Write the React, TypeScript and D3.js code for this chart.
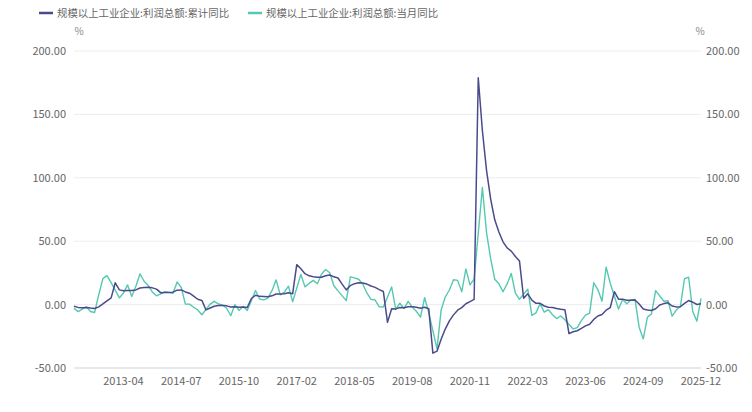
import React from "react";
import * as d3 from "d3";

// Months shown on the category axis (January is never reported separately)
const firstYearMonths = [3, 4, 5, 6, 7, 8, 9, 10, 11, 12]; // 2012
const regularMonths = [2, 3, 4, 5, 6, 7, 8, 9, 10, 11, 12]; // 2013 onwards
const years = [2012, 2013, 2014, 2015, 2016, 2017, 2018, 2019, 2020, 2021, 2022, 2023, 2024, 2025];

// 累计同比 (cumulative YoY, %)
const cumulative2012 = [-1.3, -2.2, -2.4, -2.2, -2.7, -3.1, -1.8, 0.5, 3.0, 5.3];
const cumulative2013 = [17.2, 11.6, 10.9, 11.1, 11.1, 11.6, 13.1, 13.5, 13.7, 13.2, 12.2];
const cumulative2014 = [9.4, 9.6, 9.6, 9.8, 11.4, 11.6, 10.0, 9.0, 6.7, 4.2, 3.3];
const cumulative2015 = [-4.2, -2.7, -1.3, -0.8, -0.7, -1.0, -1.9, -1.7, -2.0, -1.9, -2.3];
const cumulative2016 = [4.8, 7.4, 6.5, 6.4, 6.2, 6.9, 8.4, 8.4, 8.6, 9.4, 8.5];
const cumulative2017 = [31.5, 28.3, 24.4, 22.7, 22.0, 21.6, 21.6, 22.8, 23.3, 21.9, 21.0];
const cumulative2018 = [16.1, 11.6, 15.0, 16.5, 17.2, 17.1, 16.2, 14.7, 13.6, 11.8, 10.3];
const cumulative2019 = [-14.0, -3.3, -3.4, -2.3, -2.4, -1.7, -1.7, -2.1, -2.9, -2.1, -3.3];
const cumulative2020 = [-38.3, -36.7, -27.4, -19.3, -12.8, -8.1, -4.4, -2.4, 0.7, 2.4, 4.1];
const cumulative2021 = [178.9, 137.3, 106.0, 83.4, 66.9, 57.3, 49.5, 44.7, 42.2, 38.0, 34.3];
const cumulative2022 = [5.0, 8.5, 3.5, 1.0, 1.0, -1.1, -2.1, -2.3, -3.0, -3.6, -4.0];
const cumulative2023 = [-22.9, -21.4, -20.6, -18.8, -16.8, -15.5, -11.7, -9.0, -7.8, -4.4, -2.3];
const cumulative2024 = [10.2, 4.3, 4.3, 3.4, 3.5, 3.6, 0.5, -3.5, -4.3, -4.7, -3.3];
const cumulative2025 = [-0.3, 0.8, 1.4, -1.1, -1.8, -1.7, 0.9, 3.2, 1.9, 0.1, 0.6];

// 当月同比 (monthly YoY, %); February has no separate monthly figure
const monthly2012 = [-3.0, -5.5, -3.5, -1.7, -5.4, -6.2, 7.8, 20.5, 22.8, 17.3];
const monthly2013 = [null, 5.3, 9.2, 15.5, 6.3, 14.4, 24.2, 18.4, 15.1, 9.8, 6.9];
const monthly2014 = [null, 10.1, 9.6, 8.9, 17.9, 13.5, 0.4, 0.4, -2.1, -4.2, -8.0];
const monthly2015 = [null, 0.4, 2.6, 0.6, -0.3, -2.9, -8.8, -0.1, -4.6, -1.4, -4.7];
const monthly2016 = [null, 11.1, 4.4, 3.7, 5.1, 11.0, 19.5, 7.7, 9.8, 14.5, 2.3];
const monthly2017 = [null, 23.8, 14.0, 16.7, 19.1, 16.5, 24.0, 27.7, 25.1, 14.9, 10.8];
const monthly2018 = [null, 3.1, 21.9, 21.1, 20.0, 16.2, 9.2, 4.1, 3.6, -1.8, -1.9];
const monthly2019 = [null, 13.9, -3.7, 1.1, -3.1, 2.6, -2.0, -5.3, -9.9, 5.4, -6.3];
const monthly2020 = [null, -34.9, -4.3, 6.0, 11.5, 19.6, 19.1, 10.1, 28.2, 15.5, 20.1];
const monthly2021 = [null, 92.3, 57.0, 36.4, 20.0, 16.4, 10.1, 16.3, 24.6, 9.0, 4.2];
const monthly2022 = [null, 12.2, -8.5, -6.5, 0.8, -6.0, -4.0, -8.0, -11.0, -9.0, -12.0];
const monthly2023 = [null, -19.2, -18.2, -12.6, -8.3, -6.7, 17.2, 11.9, 2.7, 29.5, 16.8];
const monthly2024 = [null, -3.5, 4.0, 0.7, 3.6, 4.1, -17.8, -27.1, -10.0, -7.3, 11.0];
const monthly2025 = [null, 2.6, 3.0, -9.1, -4.3, -1.5, 20.4, 21.6, -5.5, -13.1, 5.0];

const yTicks = [-50, 0, 50, 100, 150, 200];
const xTickLabels = ["2013-04", "2014-07", "2015-10", "2017-02", "2018-05", "2019-08", "2020-11", "2022-03", "2023-06", "2024-09", "2025-12"];

const seriesNames = ["规模以上工业企业:利润总额:累计同比", "规模以上工业企业:利润总额:当月同比"];
const seriesColors = ["#4B4A8C", "#55C8B1"];

const cumulativeByYear = [cumulative2012, cumulative2013, cumulative2014, cumulative2015, cumulative2016, cumulative2017, cumulative2018, cumulative2019, cumulative2020, cumulative2021, cumulative2022, cumulative2023, cumulative2024, cumulative2025];
const monthlyByYear = [monthly2012, monthly2013, monthly2014, monthly2015, monthly2016, monthly2017, monthly2018, monthly2019, monthly2020, monthly2021, monthly2022, monthly2023, monthly2024, monthly2025];

const categories: string[] = [];
years.forEach((y, i) => {
  const months = i === 0 ? firstYearMonths : regularMonths;
  months.forEach((m) => categories.push(`${y}-${String(m).padStart(2, "0")}`));
});
const cumulative = cumulativeByYear.flat();
const monthly = monthlyByYear.flat();

const W = 752;
const H = 412;
const FONT = "'Noto Sans CJK SC', 'Noto Sans', sans-serif";

export default function App() {
  const x = d3.scalePoint<string>().domain(categories).range([74, 701]);
  const y = d3.scaleLinear().domain([-50, 200]).range([368, 51]);

  const line = d3
    .line<{ c: string; v: number }>()
    .x((d) => x(d.c) as number)
    .y((d) => y(d.v));

  const cumData = categories.map((c, i) => ({ c, v: cumulative[i] as number }));
  const monData = categories
    .map((c, i) => ({ c, v: monthly[i] as number | null }))
    .filter((d) => d.v !== null && d.v !== undefined) as { c: string; v: number }[];

  return (
    <div style={{ position: "fixed", left: 0, top: 0, width: W, height: H, background: "#fff" }}>
      <svg width={W} height={H} style={{ display: "block" }} fontFamily={FONT}>
        {/* legend */}
        {seriesNames.map((n, i) => {
          const lx = i === 0 ? 39 : 248;
          return (
            <g key={n}>
              <line x1={lx} x2={lx + 14} y1={13} y2={13} stroke={seriesColors[i]} strokeWidth={2.5} />
              <text x={lx + 18} y={17} fontSize={10.4} fill="#666">
                {n}
              </text>
            </g>
          );
        })}
        {/* units */}
        <text x={79} y={35} fontSize={10} fill="#888" textAnchor="middle">%</text>
        <text x={700} y={35} fontSize={10} fill="#888" textAnchor="middle">%</text>

        {/* grid */}
        {yTicks.map((t) => (
          <line
            key={t}
            x1={74}
            x2={701}
            y1={y(t)}
            y2={y(t)}
            stroke={t === -50 ? "#cdd0e0" : "#ededed"}
            strokeWidth={1}
          />
        ))}
        {/* y labels */}
        {yTicks.map((t) => (
          <g key={"l" + t}>
            <text x={66} y={y(t) + 4} fontSize={11} fill="#666" textAnchor="end">
              {t.toFixed(2)}
            </text>
            <text x={706} y={y(t) + 4} fontSize={11} fill="#666" textAnchor="start">
              {t.toFixed(2)}
            </text>
          </g>
        ))}
        {/* x labels */}
        {xTickLabels.map((l) => (
          <text key={l} x={x(l) as number} y={385} fontSize={11} fill="#666" textAnchor="middle">
            {l}
          </text>
        ))}

        {/* series */}
        <path d={line(monData) || ""} fill="none" stroke={seriesColors[1]} strokeWidth={1.4} strokeLinejoin="round" />
        <path d={line(cumData) || ""} fill="none" stroke={seriesColors[0]} strokeWidth={1.5} strokeLinejoin="round" />
      </svg>
    </div>
  );
}
